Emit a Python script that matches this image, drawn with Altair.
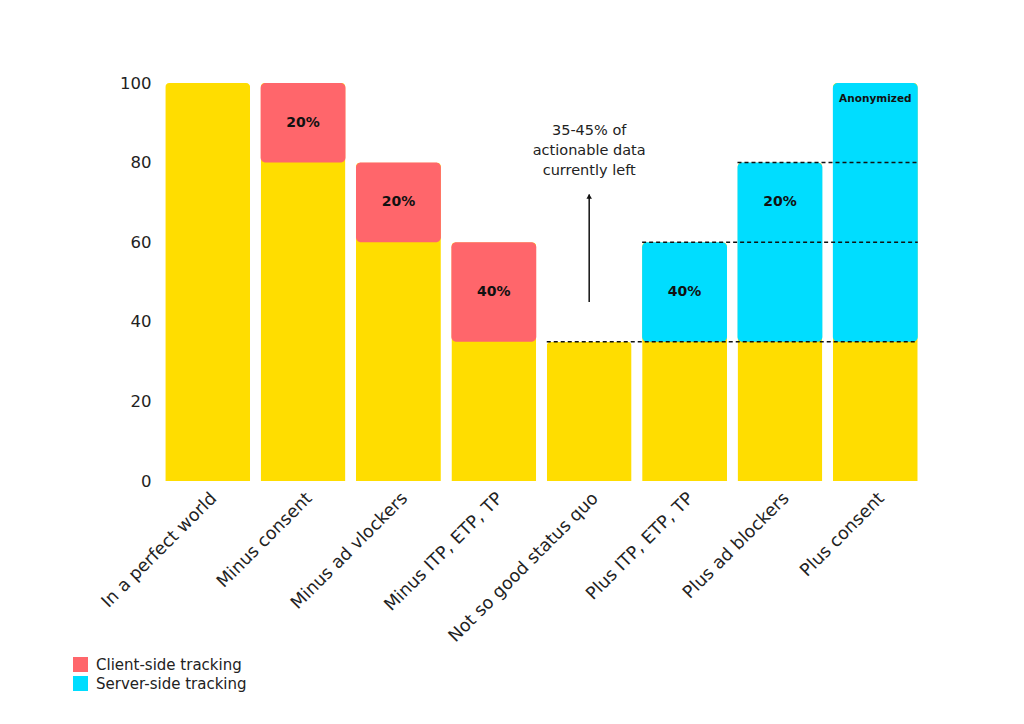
import altair as alt
import pandas as pd

categories = ["In a perfect world", "Minus consent", "Minus ad vlockers", "Minus ITP, ETP, TP",
              "Not so good status quo", "Plus ITP, ETP, TP", "Plus ad blockers", "Plus consent"]
totals = [100, 100, 80, 60, 35, 60, 80, 100]

seg_cat = ["Minus consent", "Minus ad vlockers", "Minus ITP, ETP, TP",
           "Plus ITP, ETP, TP", "Plus ad blockers", "Plus consent"]
seg_start = [80, 60, 35, 35, 35, 35]
seg_end = [100, 80, 60, 60, 80, 100]
seg_type = ["Client-side tracking"] * 3 + ["Server-side tracking"] * 3

label_cat = seg_cat
label_text = ["20%", "20%", "40%", "40%", "20%", "Anonymized"]
label_y = [90, 70, 47.5, 47.5, 70, 96]

dash_start = ["Not so good status quo", "Plus ITP, ETP, TP", "Plus ad blockers"]
dash_end = ["Plus consent"] * 3
dash_y = [35, 60, 80]

arrow_cat = ["Not so good status quo"]
arrow_from = [45]
arrow_to = [72]
note_lines = [["35-45% of", "actionable data", "currently left"]]
note_y = [89.8]

FONT = "DejaVu Sans"
YELLOW = "#FFDD00"
RED = "#FF666B"
CYAN = "#00DDFF"

xscale = alt.Scale(domain=categories, paddingInner=0.11, paddingOuter=0.055)
yscale = alt.Scale(domain=[0, 100])

base_df = pd.DataFrame({"cat": categories, "total": totals})
seg_df = pd.DataFrame({"cat": seg_cat, "start": seg_start, "end": seg_end, "type": seg_type})
lab_df = pd.DataFrame({"cat": label_cat, "text": label_text, "y": label_y})
dash_df = pd.DataFrame({"start": dash_start, "end": dash_end, "y": dash_y})
arrow_df = pd.DataFrame({"cat": arrow_cat, "from": arrow_from, "to": arrow_to})
note_df = pd.DataFrame({"cat": arrow_cat, "text": note_lines, "y": note_y})

xaxis = alt.Axis(title=None, labelAngle=-45, labelFontSize=17.5, labelColor="#222",
                 domain=False, ticks=False, labelPadding=8, labelFont=FONT,
                 labelLimit=400)
yaxis = alt.Axis(title=None, values=[0, 20, 40, 60, 80, 100], labelFontSize=16.5,
                 labelColor="#222", domain=False, ticks=False, grid=False,
                 labelPadding=9, labelFont=FONT)

yellow = alt.Chart(base_df).mark_bar(color=YELLOW, cornerRadiusTopLeft=4,
                                      cornerRadiusTopRight=4).encode(
    x=alt.X("cat:N", scale=xscale, axis=xaxis, sort=categories),
    y=alt.Y("total:Q", scale=yscale, axis=yaxis),
)

segs = alt.Chart(seg_df).mark_bar(cornerRadius=5).encode(
    x=alt.X("cat:N", scale=xscale, sort=categories),
    y=alt.Y("start:Q", scale=yscale),
    y2="end:Q",
    color=alt.Color("type:N",
                    scale=alt.Scale(domain=["Client-side tracking", "Server-side tracking"],
                                    range=[RED, CYAN]),
                    legend=alt.Legend(title=None, orient="none", legendX=-87, legendY=574,
                                      symbolType="square", symbolSize=225,
                                      symbolStrokeWidth=0, labelFontSize=15,
                                      labelFont=FONT, labelColor="#222",
                                      rowPadding=3, labelOffset=8)),
)

labels = alt.Chart(lab_df).mark_text(font=FONT, fontWeight="bold", color="#111").encode(
    x=alt.X("cat:N", scale=xscale, sort=categories),
    y=alt.Y("y:Q", scale=yscale),
    text="text:N",
    size=alt.condition(alt.datum.text == "Anonymized", alt.value(10.5), alt.value(14)),
)

dashes = alt.Chart(dash_df).mark_rule(color="#111", strokeDash=[4, 3], strokeWidth=1.5).encode(
    x=alt.X("start:N", scale=xscale, bandPosition=0, sort=categories),
    x2=alt.X2("end:N", bandPosition=1),
    y=alt.Y("y:Q", scale=yscale),
)

arrow_line = alt.Chart(arrow_df).mark_rule(color="#111", strokeWidth=1.5).encode(
    x=alt.X("cat:N", scale=xscale, sort=categories),
    y=alt.Y("from:Q", scale=yscale),
    y2="to:Q",
)
arrow_head = alt.Chart(arrow_df).mark_point(shape="triangle-up", filled=True, color="#111",
                                            size=30, opacity=1, yOffset=2).encode(
    x=alt.X("cat:N", scale=xscale, sort=categories),
    y=alt.Y("to:Q", scale=yscale),
)
note = alt.Chart(note_df).mark_text(font=FONT, fontSize=14.5, color="#222", lineHeight=20,
                                    baseline="top").encode(
    x=alt.X("cat:N", scale=xscale, sort=categories),
    y=alt.Y("y:Q", scale=yscale),
    text="text",
)

chart = alt.layer(yellow, segs, dashes, labels, arrow_line, arrow_head, note).properties(
    width=763, height=398,
    autosize=alt.AutoSizeParams(type="none"),
    padding={"left": 152, "top": 75, "right": 90, "bottom": 220},
    background="white",
).configure_view(stroke=None)

chart.save("out.html", embed_options={"renderer": "svg", "actions": False})
